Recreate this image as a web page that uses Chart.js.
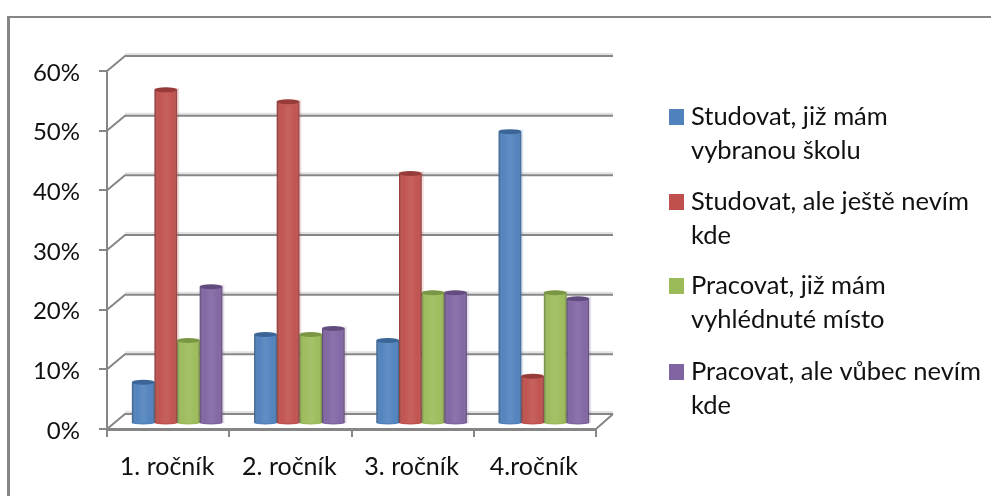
<!DOCTYPE html>
<html>
<head>
<meta charset="utf-8">
<style>
  html, body { margin: 0; padding: 0; background: #fff; overflow: hidden; }
  #wrap { position: relative; width: 991px; height: 496px; }
  #frame { position: absolute; left: 7px; top: 16px; right: -5px; bottom: -5px; border: 2px solid #868686; border-left-width: 3px; }
  canvas { position: absolute; left: 0; top: 0; }
</style>
<script src="https://cdn.jsdelivr.net/npm/chart.js@4/dist/chart.umd.min.js"></script>
</head>
<body>
<div id="wrap">
  <div id="frame"></div>
  <canvas id="chart" width="991" height="496"></canvas>
</div>
<script>
// data
const categories = ['1. ročník', '2. ročník', '3. ročník', '4.ročník'];
const studovatVybrano = [7, 15, 14, 49];
const studovatNevim = [56, 54, 42, 8];
const pracovatVyhlednuto = [14, 15, 22, 22];
const pracovatNevim = [23, 16, 22, 21];
const seriesNames = ['Studovat, již mám vybranou školu', 'Studovat, ale ještě nevím kde', 'Pracovat, již mám vyhlédnuté místo', 'Pracovat, ale vůbec nevím kde'];
const legendLines = [
    ['Studovat, již mám', 'vybranou školu'],
    ['Studovat, ale ještě nevím', 'kde'],
    ['Pracovat, již mám', 'vyhlédnuté místo'],
    ['Pracovat, ale vůbec nevím', 'kde']
];
const colors = ['#4F81BD', '#C0504D', '#9BBB59', '#8064A2'];
const capColors = ['#3A6596', '#963B39', '#7A9645', '#624C7F'];

const FONT = 'Lato, Carlito, "Open Sans", sans-serif';
const AXIS_COLOR = '#868686';
// 3D look: the back wall sits up and to the right of the front axes
const DEPTH_X = 18;
const DEPTH_Y = 15;
// bars stand in the middle of the floor
const BAR_DX = 9;
const BAR_DY = -5;

// back wall gridlines and the slanted lines down to the axis
const wallPlugin = {
    id: 'wall',
    beforeDatasetsDraw(chart) {
        const ctx = chart.ctx;
        const y = chart.scales.y;
        const left = chart.chartArea.left;
        const right = chart.chartArea.right;
        ctx.save();
        y.ticks.forEach(t => {
            const py = y.getPixelForValue(t.value);
            // pale shadow above the line
            ctx.strokeStyle = '#E2E2E2';
            ctx.lineWidth = 2;
            ctx.beginPath();
            ctx.moveTo(left + DEPTH_X, py - DEPTH_Y - 2);
            ctx.lineTo(right + DEPTH_X - 1, py - DEPTH_Y - 2);
            ctx.stroke();
            ctx.strokeStyle = AXIS_COLOR;
            ctx.lineWidth = 2;
            ctx.beginPath();
            ctx.moveTo(left, py);
            ctx.lineTo(left + DEPTH_X, py - DEPTH_Y);
            ctx.lineTo(right + DEPTH_X - 1, py - DEPTH_Y);
            ctx.stroke();
        });
        const base = y.getPixelForValue(0);
        ctx.beginPath();
        ctx.moveTo(right, base);
        ctx.lineTo(right + DEPTH_X - 1, base - DEPTH_Y);
        ctx.stroke();
        ctx.restore();

        // everything the datasets draw is moved onto the floor
        ctx.save();
        ctx.translate(BAR_DX, BAR_DY);
        chart.data.datasets.forEach((ds, i) => {
            chart.getDatasetMeta(i).data.forEach(bar => {
                const p = bar.getProps(['x', 'y', 'base', 'width']);
                ctx.fillStyle = ds.backgroundColor + '33';
                ctx.fillRect(p.x - p.width / 2, p.y - 2, p.width + 2, p.base - p.y + 2);
            });
        });
    },
    afterDatasetsDraw(chart) {
        const ctx = chart.ctx;
        chart.data.datasets.forEach((ds, i) => {
            chart.getDatasetMeta(i).data.forEach(bar => {
                const p = bar.getProps(['x', 'y', 'base', 'width']);
                const l = p.x - p.width / 2;
                const r = p.x + p.width / 2;
                const rx = p.width / 2;

                // rounded foot
                ctx.fillStyle = ds.backgroundColor;
                ctx.beginPath();
                ctx.ellipse(p.x, p.base, rx, 1.5, 0, 0, Math.PI * 2);
                ctx.fill();

                // cylinder shading
                const g = ctx.createLinearGradient(l, 0, r, 0);
                g.addColorStop(0, 'rgba(0,0,0,0.3)');
                g.addColorStop(0.18, 'rgba(255,255,255,0.02)');
                g.addColorStop(0.5, 'rgba(255,255,255,0.1)');
                g.addColorStop(0.85, 'rgba(255,255,255,0.02)');
                g.addColorStop(1, 'rgba(0,0,0,0.3)');
                ctx.fillStyle = g;
                ctx.fillRect(l, p.y, p.width, p.base - p.y);

                // top cap
                ctx.fillStyle = capColors[i];
                ctx.beginPath();
                ctx.ellipse(p.x, p.y, rx, 2.5, 0, 0, Math.PI * 2);
                ctx.fill();
            });
        });
        ctx.restore();
    }
};

// the legend wraps its labels on two lines, so it is drawn here
const wrappedLegend = {
    id: 'wrappedLegend',
    afterDraw(chart) {
        const ctx = chart.ctx;
        const rows = [117, 202, 286, 372];
        ctx.save();
        ctx.font = '25.5px ' + FONT;
        ctx.textBaseline = 'middle';
        legendLines.forEach((lines, i) => {
            ctx.fillStyle = colors[i];
            ctx.fillRect(669, rows[i] - 8, 15, 16);
            ctx.fillStyle = '#111';
            lines.forEach((line, j) => {
                ctx.fillText(line, 691, rows[i] + j * 34);
            });
        });
        ctx.restore();
    }
};

const values = [studovatVybrano, studovatNevim, pracovatVyhlednuto, pracovatNevim];

new Chart(document.getElementById('chart'), {
    type: 'bar',
    data: {
        labels: categories,
        datasets: values.map((v, i) => ({
            label: seriesNames[i],
            data: v,
            backgroundColor: colors[i],
            borderWidth: 0,
            clip: false,
            barPercentage: 1,
            categoryPercentage: 0.74
        }))
    },
    options: {
        responsive: false,
        animation: false,
        layout: { padding: { left: 0, top: 71, right: 395, bottom: 0 } },
        plugins: {
            legend: { display: false },
            tooltip: { enabled: false }
        },
        scales: {
            x: {
                afterFit: s => { s.height = 67; },
                grid: { drawOnChartArea: false, color: AXIS_COLOR, lineWidth: 2, tickLength: 8 },
                border: { color: AXIS_COLOR, width: 3 },
                ticks: { color: '#111', font: { family: FONT, size: 25 }, padding: 15, labelOffset: -1, maxRotation: 0 }
            },
            y: {
                min: 0,
                max: 60,
                afterFit: s => { s.width = 107; },
                grid: { drawOnChartArea: false, color: AXIS_COLOR, lineWidth: 2, tickLength: 8 },
                border: { color: AXIS_COLOR, width: 2 },
                ticks: {
                    stepSize: 10,
                    color: '#111',
                    font: { family: FONT, size: 24 },
                    padding: 19,
                    labelOffset: 2,
                    callback: v => v + '%'
                }
            }
        }
    },
    plugins: [wallPlugin, wrappedLegend]
});
</script>
</body>
</html>
